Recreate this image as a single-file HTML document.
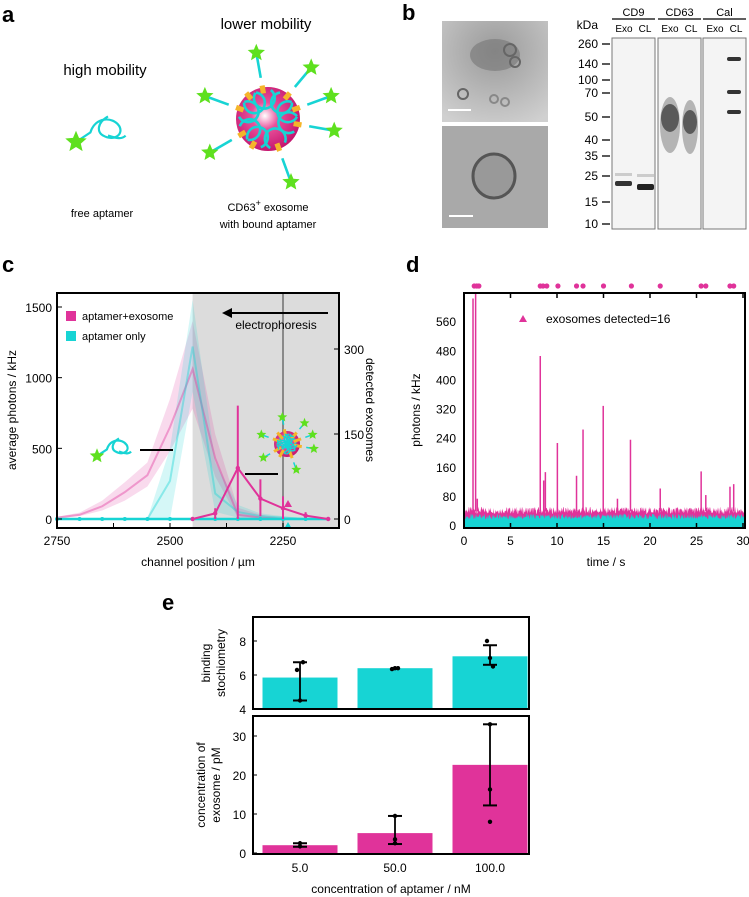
<!DOCTYPE html>
<html><head><meta charset="utf-8"><style>
html,body{margin:0;padding:0;background:#fff}
svg{display:block;font-family:"Liberation Sans","DejaVu Sans",sans-serif}
</style></head><body>
<svg id="fig" width="749" height="897" viewBox="0 0 749 897" xmlns="http://www.w3.org/2000/svg">
<defs>
<radialGradient id="exg" cx="0.45" cy="0.45" r="0.6"><stop offset="0" stop-color="#fff"/><stop offset="0.35" stop-color="#e8509a"/><stop offset="1" stop-color="#c0106a"/></radialGradient>
<radialGradient id="temg" cx="0.5" cy="0.3" r="0.8"><stop offset="0" stop-color="#9a9a9a"/><stop offset="1" stop-color="#d0d0d0"/></radialGradient>
</defs>
<!-- panel a -->
<g>
<text x="2" y="22" font-size="22" font-weight="bold">a</text>
<text x="105" y="75" font-size="15" text-anchor="middle">high mobility</text>
<text x="266" y="29" font-size="15" text-anchor="middle">lower mobility</text>
<text x="102" y="217" font-size="11" text-anchor="middle">free aptamer</text>
<text x="268" y="211" font-size="11" text-anchor="middle">CD63<tspan dy="-5" font-size="9">+</tspan><tspan dy="5"> exosome</tspan></text>
<text x="268" y="228" font-size="11" text-anchor="middle">with bound aptamer</text>
<g id="aptA"></g>
<g id="exoA"></g>
</g>
<!-- panel b -->
<g>
<text x="402" y="20" font-size="22" font-weight="bold">b</text>
<rect x="442" y="21" width="106" height="101" fill="url(#temg)"/>
<ellipse cx="495" cy="55" rx="25" ry="16" fill="#777" opacity="0.6"/>
<circle cx="510" cy="50" r="6" fill="none" stroke="#666" stroke-width="2"/>
<circle cx="515" cy="62" r="5" fill="none" stroke="#666" stroke-width="2"/>
<circle cx="505" cy="102" r="4" fill="none" stroke="#888" stroke-width="2"/>
<circle cx="494" cy="99" r="4" fill="none" stroke="#888" stroke-width="2"/>
<circle cx="463" cy="94" r="5" fill="none" stroke="#666" stroke-width="2"/>
<line x1="448" y1="110" x2="471" y2="110" stroke="#fff" stroke-width="2"/>
<rect x="442" y="126" width="106" height="102" fill="#a9a9a9"/>
<ellipse cx="494" cy="176" rx="21" ry="22" fill="#999" stroke="#555" stroke-width="3"/>
<line x1="449" y1="216" x2="473" y2="216" stroke="#fff" stroke-width="2"/>
<text x="598" y="29" font-size="12" text-anchor="end">kDa</text>
<g id="blot"></g>
</g>
<!-- panel c -->
<g>
<text x="2" y="272" font-size="22" font-weight="bold">c</text>
<g id="chartC"></g>
</g>
<!-- panel d -->
<g>
<text x="406" y="272" font-size="22" font-weight="bold">d</text>
<g id="chartD"></g>
</g>
<!-- panel e -->
<g>
<text x="162" y="610" font-size="22" font-weight="bold">e</text>
<g id="chartE"></g>
</g>
</svg>
<script>
// ---------- panel c data ----------
const positionsC = [2750,2700,2650,2600,2550,2500,2450,2400,2350,2300,2250,2200,2150];
const exoAvg  = [10,30,90,190,310,650,1060,430,30,10,0,0,0];
const exoHi   = [15,45,130,260,400,850,1400,600,80,30,5,0,0];
const exoLo   = [5,20,60,130,230,480,780,300,10,0,0,0,0];
const aptAvg  = [0,0,0,0,0,270,1220,180,50,20,10,0,0];
const aptHi   = [0,0,0,0,0,500,1550,400,100,40,20,5,0];
const aptLo   = [0,0,0,0,0,0,900,50,10,0,0,0,0];
const countPos = [2450,2400,2350,2300,2250,2200,2150];
const countVal = [0,10,90,36,19,6,0];
const countHi  = [0,19,200,70,40,12,0];
const countLo  = [0,0,0,5,0,2,0];
const aptCount = [0,0,0,0,0,0,0,0,0,0,0,0,0];
const xTicksC = [2750,2500,2250];
const yTicksC = [0,500,1000,1500];
const yTicksCR = [0,150,300];

// ---------- panel d data ----------
const eventTimes = [1.1,1.37,1.6,8.2,8.5,8.9,10.1,12.1,12.8,15.0,18.0,21.1,25.5,26.0,28.6,29.0];
const spikeTimes = [0.97,1.25,1.43,8.2,8.57,8.75,10.04,12.1,12.8,14.97,16.5,17.9,21.1,25.5,26.0,28.6,29.0];
const spikeHeights = [625,700,75,467,125,148,228,138,265,330,75,237,103,150,85,108,115];
const xTicksD = [0,5,10,15,20,25,30];
const yTicksD = [0,80,160,240,320,400,480,560];

// ---------- panel e data ----------
const concLabels = ["5.0","50.0","100.0"];
const stoichVal = [5.85,6.4,7.1];
const stoichErrLo = [4.5,6.4,6.6];
const stoichErrHi = [6.75,6.4,7.75];
const stoichPts = [[6.3,4.5,6.75],[6.35,6.4,6.4],[8.0,7.0,6.5]];
const exoConcVal = [2.0,5.1,22.6];
const exoConcErrLo = [1.6,2.3,12.2];
const exoConcErrHi = [2.5,9.5,33.0];
const exoConcPts = [[2.5,1.7],[3.5,2.5,9.5],[33,16.3,8]];
const yTicksE1 = [4,6,8];
const yTicksE2 = [0,10,20,30];

const NS="http://www.w3.org/2000/svg";
function mk(parent,tag,attrs,text){const e=document.createElementNS(NS,tag);for(const k in attrs)e.setAttribute(k,attrs[k]);if(text!==undefined)e.textContent=text;parent.appendChild(e);return e;}
const PINK="#e0339a", CYAN="#17d4d4";

// ---------- star + cartoons ----------
function star(p,cx,cy,r){let pts=[];for(let i=0;i<10;i++){const a=-Math.PI/2+i*Math.PI/5;const rr=i%2?r*0.45:r;pts.push((cx+rr*Math.cos(a)).toFixed(1)+","+(cy+rr*Math.sin(a)).toFixed(1));}
 const s=mk(p,'polygon',{points:pts.join(' '),fill:'#5ee01e'});return s;}
function aptamer(p,x,y,s){
 mk(p,'path',{d:`M${x} ${y} l${9*s} ${-6*s} c${3*s} ${-10*s} ${14*s} ${-10*s} ${18*s} ${-4*s} c${3*s} ${5*s} ${-3*s} ${10*s} ${-10*s} ${6*s} c${-4*s} ${-2*s} ${-4*s} ${-8*s} ${3*s} ${-12*s}`,fill:'none',stroke:CYAN,'stroke-width':2.2});
 mk(p,'path',{d:`M${x+20*s} ${y-4*s} c${4*s} ${1*s} ${8*s} ${3*s} ${11*s} ${0}`,fill:'none',stroke:CYAN,'stroke-width':2.2});
 star(p,x,y,7*s);
}
function exosome(p,cx,cy,r,sc){
 mk(p,'circle',{cx,cy,r,fill:'url(#exg)'});
 const angs=[-100,-50,-160,10,150,70,-20,120,-130];
 for(let i=0;i<angs.length;i++){const a=angs[i]*Math.PI/180;const c=Math.cos(a),s=Math.sin(a);
  const lx=cx+(r+2)*c, ly=cy+(r+2)*s;
  mk(p,'path',{d:`M${cx+(r-6)*c} ${cy+(r-6)*s} L${lx} ${ly}`,stroke:'#f5b52a','stroke-width':4*sc});
  mk(p,'path',{d:`M${cx+(r-4)*c-6*sc*s} ${cy+(r-4)*s+6*sc*c} a${8*sc} ${8*sc} 0 1 1 ${12*sc*s} ${-12*sc*c}`,fill:'none',stroke:CYAN,'stroke-width':2*sc});
  if(i<7){const d=r*2.1;mk(p,'line',{x1:lx+6*sc*c,y1:ly+6*sc*s,x2:cx+d*c,y2:cy+d*s,stroke:CYAN,'stroke-width':2*sc});star(p,cx+d*c,cy+d*s,7*sc);}
 }
}
aptamer(document.getElementById('aptA'),76,142,1.6);
exosome(document.getElementById('exoA'),268,119,32,1.3);

// ---------- blot ----------
(function(){const g=document.getElementById('blot');
 const marks=[["260",44],["140",64],["100",80],["70",93],["50",117],["40",140],["35",156],["25",176],["15",202],["10",224]];
 for(const [t,y] of marks){const tx=mk(g,'text',{x:598,y:y+4,'font-size':12,'text-anchor':'end'},t);mk(g,'line',{x1:602,y1:y,x2:610,y2:y,stroke:'#000','stroke-width':1.3});}
 const lanes=[["CD9",612],["CD63",658],["Cal",703]];
 for(const [n,x] of lanes){mk(g,'rect',{x:x,y:38,width:43,height:191,fill:'#f4f4f4',stroke:'#777','stroke-width':1});
  mk(g,'line',{x1:x,y1:19,x2:x+43,y2:19,stroke:'#000','stroke-width':1.2});
  const t=mk(g,'text',{x:x+21.5,y:16,'font-size':11,'text-anchor':'middle'},n);
  mk(g,'text',{x:x+12,y:32,'font-size':10,'text-anchor':'middle'},"Exo");mk(g,'text',{x:x+33,y:32,'font-size':10,'text-anchor':'middle'},"CL");}
 mk(g,'rect',{x:615,y:181,width:17,height:5,fill:'#333',rx:2});mk(g,'rect',{x:637,y:184,width:17,height:6,fill:'#222',rx:2});
 mk(g,'rect',{x:615,y:173,width:17,height:3,fill:'#ccc'});mk(g,'rect',{x:637,y:174,width:17,height:3,fill:'#ccc'});
 mk(g,'ellipse',{cx:670,cy:125,rx:10,ry:28,fill:'#999',opacity:0.7});mk(g,'ellipse',{cx:670,cy:118,rx:9,ry:14,fill:'#444',opacity:0.8});
 mk(g,'ellipse',{cx:690,cy:127,rx:8,ry:27,fill:'#999',opacity:0.7});mk(g,'ellipse',{cx:690,cy:122,rx:7,ry:12,fill:'#444',opacity:0.8});
 for(const y of [59,92,112])mk(g,'rect',{x:727,y:y-2,width:14,height:4,fill:'#333',rx:2});
})();

// ---------- panel c ----------
(function(){const g=document.getElementById('chartC');
 const L=57,R=339,T=293,B=528;
 const X=p=>L+(2750-p)*113/250, Y=v=>519-v*212/1500, YR=n=>519-n*170/300;
 mk(g,'rect',{x:X(2450),y:T,width:R-X(2450),height:B-T,fill:'#dcdcdc'});
 mk(g,'line',{x1:283,y1:T,x2:283,y2:B,stroke:'#8a8a8a','stroke-width':2});
 function band(hi,lo,col,name){let d='M';positionsC.forEach((p,i)=>d+=X(p)+' '+Y(hi[i])+' L');for(let i=positionsC.length-1;i>=0;i--)d+=X(positionsC[i])+' '+Y(lo[i])+(i?' L':' Z');
  const e=mk(g,'path',{d,fill:col,opacity:0.18});}
 function line(vals,col,name){const e=mk(g,'polyline',{points:positionsC.map((p,i)=>X(p)+','+Y(vals[i])).join(' '),fill:'none',stroke:col,'stroke-width':2,opacity:0.4});}
 band(exoHi,exoLo,PINK,'exosome-band');band(aptHi,aptLo,CYAN,'aptamer-band');
 line(exoAvg,PINK,'exosome-avg-line');line(aptAvg,CYAN,'aptamer-avg-line');
 const al=mk(g,'polyline',{points:positionsC.map((p,i)=>X(p)+','+YR(aptCount[i])).join(' '),fill:'none',stroke:CYAN,'stroke-width':2.5});
 
 positionsC.forEach((p,i)=>{const c=mk(g,'circle',{cx:X(p),cy:YR(aptCount[i]),r:2,fill:CYAN});});
 countPos.forEach((p,i)=>{const e=mk(g,'line',{x1:X(p),y1:YR(countLo[i]),x2:X(p),y2:YR(countHi[i]),stroke:PINK,'stroke-width':2});});
 const cl=mk(g,'polyline',{points:countPos.map((p,i)=>X(p)+','+YR(countVal[i])).join(' '),fill:'none',stroke:PINK,'stroke-width':2});
 
 countPos.forEach((p,i)=>{const c=mk(g,'circle',{cx:X(p),cy:YR(countVal[i]),r:2.2,fill:PINK});});
 mk(g,'polygon',{points:'284,507 292,507 288,500',fill:PINK});mk(g,'polygon',{points:'284,529 292,529 288,522',fill:CYAN});
 const ac=mk(g,'g',{});aptamer(ac,97,456,1.1);
 mk(g,'line',{x1:140,y1:450,x2:173,y2:450,stroke:'#000','stroke-width':2});
 mk(g,'line',{x1:245,y1:474,x2:278,y2:474,stroke:'#000','stroke-width':2});
 const ec=mk(g,'g',{});exosome(ec,287,444,13,0.75);
 mk(g,'rect',{x:L,y:T,width:R-L,height:B-T,fill:'none',stroke:'#000','stroke-width':2});
 [2750,2625,2500,2375,2250,2125].forEach(p=>{mk(g,'line',{x1:X(p),y1:B,x2:X(p),y2:B-5,stroke:'#000'});});
 xTicksC.forEach(p=>{const t=mk(g,'text',{x:X(p),y:545,'font-size':12,'text-anchor':'middle'},p);});
 yTicksC.forEach(v=>{mk(g,'line',{x1:L,y1:Y(v),x2:L+5,y2:Y(v),stroke:'#000'});const t=mk(g,'text',{x:52,y:Y(v)+5,'font-size':12,'text-anchor':'end'},v);});
 yTicksCR.forEach(v=>{mk(g,'line',{x1:R,y1:YR(v),x2:R-5,y2:YR(v),stroke:'#000'});const t=mk(g,'text',{x:344,y:YR(v)+5,'font-size':12},v);});
 const xt=mk(g,'text',{x:198,y:566,'font-size':12,'text-anchor':'middle'},'channel position / µm');
 const yt=mk(g,'text',{x:0,y:0,'font-size':12,'text-anchor':'middle',transform:'translate(16,410) rotate(-90)'},'average photons / kHz');
 const yr=mk(g,'text',{x:0,y:0,'font-size':12,'text-anchor':'middle',transform:'translate(366,410) rotate(90)'},'detected exosomes');
 mk(g,'rect',{x:66,y:311,width:10,height:10,fill:PINK});
 const l1=mk(g,'text',{x:82,y:320,'font-size':11},'aptamer+exosome');
 mk(g,'rect',{x:66,y:331,width:10,height:10,fill:CYAN});
 const l2=mk(g,'text',{x:82,y:340,'font-size':11},'aptamer only');
 mk(g,'line',{x1:328,y1:313,x2:230,y2:313,stroke:'#000','stroke-width':2});mk(g,'polygon',{points:'222,313 232,308 232,318',fill:'#000'});
 mk(g,'text',{x:276,y:329,'font-size':12,'text-anchor':'middle'},'electrophoresis');
})();

// ---------- panel d ----------
(function(){const g=document.getElementById('chartD');
 const L=464,R=745,T=293,B=528;
 const X=t=>L+t*9.3, Y=v=>Math.max(T,526-v*0.364);
 const h=i=>{const s=Math.sin(i*12.9898)*43758.5453;return s-Math.floor(s);};
 const tMax=(R-L)/9.3;
 let dp='M'+L+' '+B,dc='M'+L+' '+B;
 for(let i=0;i<=600;i++){const t=Math.min(i*0.0515,tMax);dp+=' L'+X(t).toFixed(1)+' '+Y(33+h(i)*20).toFixed(1);dc+=' L'+X(t).toFixed(1)+' '+Y(18+h(i+777)*16).toFixed(1);}
 dp+=' L'+R+' '+B+' Z';dc+=' L'+R+' '+B+' Z';
 const np=mk(g,'path',{d:dp,fill:PINK});
 const nc=mk(g,'path',{d:dc,fill:CYAN});
 spikeTimes.forEach((t,i)=>{const e=mk(g,'line',{x1:X(t),y1:Y(40),x2:X(t),y2:Y(spikeHeights[i]),stroke:PINK,'stroke-width':1.5});});
 eventTimes.forEach(t=>{const c=mk(g,'circle',{cx:X(t),cy:286,r:2.6,fill:PINK});});
 mk(g,'rect',{x:L,y:T,width:R-L,height:B-T,fill:'none',stroke:'#000','stroke-width':2});
 xTicksD.forEach(t=>{mk(g,'line',{x1:X(t),y1:B,x2:X(t),y2:B-5,stroke:'#000','stroke-width':1.5});mk(g,'line',{x1:X(t),y1:T,x2:X(t),y2:T+5,stroke:'#000','stroke-width':1.5});
  const tx=mk(g,'text',{x:X(t),y:545,'font-size':12,'text-anchor':'middle'},t);});
 yTicksD.forEach(v=>{const tx=mk(g,'text',{x:456,y:526-v*0.364+4,'font-size':12,'text-anchor':'end'},v);});
 mk(g,'text',{x:606,y:566,'font-size':12,'text-anchor':'middle'},'time / s');
 mk(g,'text',{x:0,y:0,'font-size':12,'text-anchor':'middle',transform:'translate(420,410) rotate(-90)'},'photons / kHz');
 mk(g,'polygon',{points:'519,322 527,322 523,315',fill:PINK});
 mk(g,'text',{x:546,y:323,'font-size':12},'exosomes detected=16');
})();

// ---------- panel e ----------
(function(){const g=document.getElementById('chartE');
 const L=253,R=529, T1=617,B1=709, T2=716,B2=854;
 const Y1=v=>709-(v-4)*17, Y2=v=>853-v*3.9;
 const cx=[300,395,490], bw=75;
 mk(g,'rect',{x:L,y:T1,width:R-L,height:B1-T1,fill:'none',stroke:'#000','stroke-width':2});
 mk(g,'rect',{x:L,y:T2,width:R-L,height:B2-T2,fill:'none',stroke:'#000','stroke-width':2});
 function eb(x,lo,hi){mk(g,'line',{x1:x,y1:lo,x2:x,y2:hi,stroke:'#000','stroke-width':1.8});mk(g,'line',{x1:x-7,y1:lo,x2:x+7,y2:lo,stroke:'#000','stroke-width':2});mk(g,'line',{x1:x-7,y1:hi,x2:x+7,y2:hi,stroke:'#000','stroke-width':2});}
 stoichVal.forEach((v,i)=>{const r=mk(g,'rect',{x:cx[i]-bw/2,y:Y1(v),width:bw,height:B1-1-Y1(v),fill:CYAN});
  if(stoichErrHi[i]>stoichErrLo[i])eb(cx[i],Y1(stoichErrLo[i]),Y1(stoichErrHi[i]));
  stoichPts[i].forEach((p,j)=>{mk(g,'circle',{cx:cx[i]+(j-1)*3,cy:Y1(p),r:2.2,fill:'#000'});});});
 exoConcVal.forEach((v,i)=>{const r=mk(g,'rect',{x:cx[i]-bw/2,y:Y2(v),width:bw,height:B2-1-Y2(v),fill:PINK});
  eb(cx[i],Y2(exoConcErrLo[i]),Y2(exoConcErrHi[i]));
  exoConcPts[i].forEach(p=>{mk(g,'circle',{cx:cx[i],cy:Y2(p),r:2.2,fill:'#000'});});});
 yTicksE1.forEach(v=>{mk(g,'line',{x1:L,y1:Y1(v),x2:L+4,y2:Y1(v),stroke:'#000'});mk(g,'text',{x:246,y:Y1(v)+5,'font-size':12,'text-anchor':'end'},v);});
 yTicksE2.forEach(v=>{mk(g,'line',{x1:L,y1:Y2(v),x2:L+4,y2:Y2(v),stroke:'#000'});mk(g,'text',{x:246,y:Y2(v)+5,'font-size':12,'text-anchor':'end'},v);});
 concLabels.forEach((c,i)=>{mk(g,'text',{x:cx[i],y:872,'font-size':12,'text-anchor':'middle'},c);});
 mk(g,'text',{x:391,y:893,'font-size':12,'text-anchor':'middle'},'concentration of aptamer / nM');
 mk(g,'text',{x:0,y:0,'font-size':12,'text-anchor':'middle',transform:'translate(210,663) rotate(-90)'},'binding');
 mk(g,'text',{x:0,y:0,'font-size':12,'text-anchor':'middle',transform:'translate(225,663) rotate(-90)'},'stochiometry');
 mk(g,'text',{x:0,y:0,'font-size':12,'text-anchor':'middle',transform:'translate(205,785) rotate(-90)'},'concentration of');
 mk(g,'text',{x:0,y:0,'font-size':12,'text-anchor':'middle',transform:'translate(220,785) rotate(-90)'},'exosome / pM');
})();
</script>
</body></html>
